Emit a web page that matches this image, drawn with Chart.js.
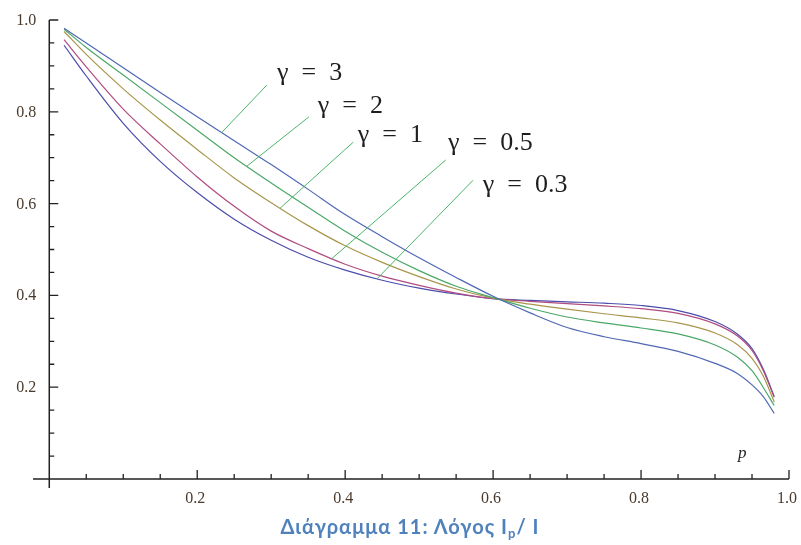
<!DOCTYPE html>
<html>
<head>
<meta charset="utf-8">
<script src="https://cdn.jsdelivr.net/npm/chart.js@4.4.0/dist/chart.umd.min.js"></script>
<style>
  html, body { margin: 0; padding: 0; background: #fff; }
  #wrap { position: relative; width: 801px; height: 545px; }
  #caption {
    position: absolute; left: 19px; right: 0; top: 514px; text-align: center;
    font: bold 20px Lato, "Open Sans", sans-serif; letter-spacing: 1px; color: #4f81bd;
  }
  #caption sub { font-size: 13px; vertical-align: -4px; line-height: 0; }
</style>
</head>
<body>
<div id="wrap">
  <canvas id="ratioChart" width="801" height="545"></canvas>
  <div id="caption">Διάγραμμα 11: Λόγος I<sub>p</sub>/ I</div>
</div>
<script>
// p values along the horizontal axis
const pValues = [0.02, 0.05, 0.10, 0.15, 0.20, 0.25, 0.30, 0.35, 0.40, 0.45, 0.50, 0.55,
  0.60, 0.65, 0.70, 0.75, 0.80, 0.85, 0.90, 0.93, 0.95, 0.965, 0.98];

// Ip / I for each gamma
const gamma3  = [0.982, 0.950, 0.896, 0.842, 0.789, 0.737, 0.685, 0.631, 0.576, 0.528, 0.482, 0.439,
  0.398, 0.362, 0.330, 0.310, 0.295, 0.278, 0.252, 0.230, 0.205, 0.180, 0.143];
const gamma2  = [0.980, 0.940, 0.880, 0.820, 0.760, 0.700, 0.645, 0.592, 0.540, 0.494, 0.454, 0.420,
  0.395, 0.372, 0.353, 0.340, 0.329, 0.316, 0.292, 0.266, 0.236, 0.200, 0.160];
const gamma1  = [0.975, 0.925, 0.850, 0.782, 0.718, 0.656, 0.602, 0.552, 0.508, 0.472, 0.441, 0.414,
  0.394, 0.381, 0.370, 0.360, 0.351, 0.340, 0.318, 0.293, 0.263, 0.225, 0.168];
const gamma05 = [0.957, 0.898, 0.806, 0.730, 0.658, 0.594, 0.540, 0.502, 0.468, 0.442, 0.422, 0.405,
  0.393, 0.387, 0.382, 0.377, 0.371, 0.361, 0.338, 0.312, 0.280, 0.237, 0.178];
const gamma03 = [0.945, 0.878, 0.775, 0.692, 0.624, 0.566, 0.520, 0.483, 0.455, 0.433, 0.416, 0.403,
  0.393, 0.389, 0.386, 0.383, 0.378, 0.367, 0.343, 0.316, 0.284, 0.240, 0.180];

const seriesNames = ['γ = 3', 'γ = 2', 'γ = 1', 'γ = 0.5', 'γ = 0.3'];
const seriesData = [gamma3, gamma2, gamma1, gamma05, gamma03];
const seriesColors = ['#5068b4', '#4aa866', '#a8964c', '#b04c80', '#4c4cac'];

const xTicks = [0.2, 0.4, 0.6, 0.8, 1.0];
const yTicks = [0.2, 0.4, 0.6, 0.8, 1.0];

// callouts: curve point p, leader start (p, v), text baseline-left (p, v)
const callouts = [
  { series: 0, at: 0.233, from: [0.294, 0.858], text: [0.308, 0.869] },
  { series: 1, at: 0.267, from: [0.351, 0.789], text: [0.363, 0.797] },
  { series: 2, at: 0.312, from: [0.411, 0.734], text: [0.417, 0.734] },
  { series: 3, at: 0.382, from: [0.536, 0.695], text: [0.539, 0.717] },
  { series: 4, at: 0.443, from: [0.573, 0.651], text: [0.586, 0.625] }
];

function valueAt(values, p) {
  for (let i = 1; i < pValues.length; i++) {
    if (p <= pValues[i]) {
      const t = (p - pValues[i - 1]) / (pValues[i] - pValues[i - 1]);
      return values[i - 1] + t * (values[i] - values[i - 1]);
    }
  }
  return values[values.length - 1];
}

const axesPlugin = {
  id: 'mathAxes',
  afterDatasetsDraw(chart) {
    const { ctx, scales: { x, y } } = chart;
    const x0 = x.getPixelForValue(0);
    const y0 = y.getPixelForValue(0);
    ctx.save();
    ctx.strokeStyle = '#222';
    ctx.lineWidth = 1.5;
    ctx.beginPath();
    ctx.moveTo(x.left, y0);
    ctx.lineTo(x.getPixelForValue(1.0), y0);
    ctx.moveTo(x0, y.bottom);
    ctx.lineTo(x0, y.getPixelForValue(1.0));
    ctx.stroke();

    // minor ticks every 0.05, major at the labelled values
    ctx.lineWidth = 1.3;
    ctx.beginPath();
    for (let k = 1; k <= 20; k++) {
      const v = k * 0.05;
      const len = k % 4 === 0 ? 9 : 5;
      const px = x.getPixelForValue(v);
      ctx.moveTo(px, y0);
      ctx.lineTo(px, y0 - len);
      const py = y.getPixelForValue(v);
      ctx.moveTo(x0, py);
      ctx.lineTo(x0 + len, py);
    }
    ctx.stroke();

    ctx.fillStyle = '#4a3a2c';
    ctx.font = '16px "Liberation Serif", "DejaVu Serif", serif';
    ctx.textAlign = 'center';
    ctx.textBaseline = 'alphabetic';
    xTicks.forEach(v => ctx.fillText(v.toFixed(1), x.getPixelForValue(v) - 2, y0 + 24));
    ctx.textAlign = 'right';
    yTicks.forEach(v => ctx.fillText(v.toFixed(1), x0 - 13, y.getPixelForValue(v) + 5));

    ctx.textAlign = 'left';
    ctx.fillStyle = '#222';
    ctx.font = 'italic 17px "Liberation Serif", serif';
    ctx.fillText('p', x.getPixelForValue(0.931), y.getPixelForValue(0.046));

    // gamma callouts with leader lines
    ctx.strokeStyle = '#4db36a';
    ctx.lineWidth = 1;
    ctx.font = '26px "Liberation Serif", "DejaVu Serif", serif';
    ctx.fillStyle = '#1e1e1e';
    callouts.forEach(c => {
      const endX = x.getPixelForValue(c.at);
      const endY = y.getPixelForValue(valueAt(seriesData[c.series], c.at));
      ctx.beginPath();
      ctx.moveTo(x.getPixelForValue(c.from[0]), y.getPixelForValue(c.from[1]));
      ctx.lineTo(endX, endY);
      ctx.stroke();
      ctx.fillText(seriesNames[c.series].replace(/ /g, '\u2002'),
        x.getPixelForValue(c.text[0]), y.getPixelForValue(c.text[1]));
    });
    ctx.restore();
  }
};

new Chart(document.getElementById('ratioChart'), {
  type: 'line',
  data: {
    datasets: seriesData.map((values, i) => ({
      label: seriesNames[i],
      data: pValues.map((p, j) => ({ x: p, y: values[j] })),
      borderColor: seriesColors[i],
      borderWidth: 1.2,
      pointRadius: 0,
      cubicInterpolationMode: 'monotone',
      fill: false
    }))
  },
  options: {
    responsive: false,
    animation: false,
    layout: { padding: { left: 33, right: 12, top: 20, bottom: 57 } },
    plugins: { legend: { display: false }, tooltip: { enabled: false } },
    scales: {
      x: { type: 'linear', min: -0.022, max: 1.0, display: false },
      y: { type: 'linear', min: -0.0196, max: 1.0, display: false }
    }
  },
  plugins: [axesPlugin]
});
</script>
</body>
</html>
